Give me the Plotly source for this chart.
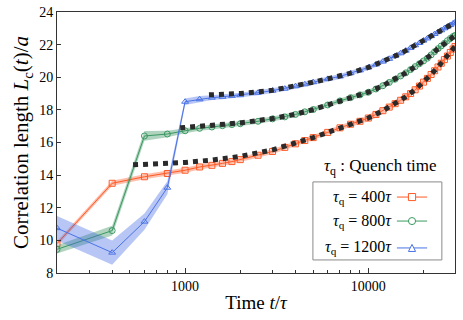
import plotly.graph_objects as go

# time grid (t / tau)
t = [200, 400, 600, 800, 1000, 1200, 1400, 1600, 1800, 2000, 2500, 3000, 3500,
     4000, 4500, 5000, 6000, 7000, 8000, 9000, 10000, 11000, 12000, 13000,
     14000, 15000, 16000, 17000, 18000, 19000, 20000, 21000, 22000, 23000,
     24000, 25000, 26000, 27000, 28000, 29000, 29700]

# correlation length for each quench time
lc_400 = [9.8, 13.5, 13.9, 14.1, 14.3, 14.5, 14.6, 14.72, 14.83, 14.95, 15.22,
          15.45, 15.7, 15.92, 16.12, 16.3, 16.62, 16.9, 17.12, 17.3, 17.5,
          17.72, 17.95, 18.17, 18.38, 18.59, 18.8, 19.0, 19.23, 19.46, 19.7,
          19.93, 20.17, 20.4, 20.63, 20.86, 21.08, 21.3, 21.52, 21.73, 21.88]
lc_800 = [9.45, 10.6, 16.4, 16.52, 16.72, 16.87, 16.95, 17.03, 17.1, 17.15,
          17.3, 17.45, 17.57, 17.72, 17.88, 18.02, 18.3, 18.55, 18.75, 18.92,
          19.08, 19.28, 19.48, 19.68, 19.88, 20.08, 20.27, 20.47, 20.65, 20.83,
          21.0, 21.17, 21.37, 21.57, 21.75, 21.92, 22.08, 22.24, 22.38, 22.5,
          22.56]
lc_1200 = [10.75, 9.25, 11.15, 13.23, 18.5, 18.65, 18.75, 18.8, 18.86, 18.9,
           19.05, 19.18, 19.3, 19.45, 19.57, 19.7, 19.9, 20.05, 20.25, 20.42,
           20.6, 20.78, 20.96, 21.13, 21.3, 21.47, 21.63, 21.8, 21.96, 22.1,
           22.25, 22.38, 22.52, 22.65, 22.77, 22.88, 23.0, 23.1, 23.2, 23.3,
           23.36]

# error (half width of shaded band)
err_400 = [0.15] * 20 + [0.2] * (len(t) - 20)
err_800 = [0.25, 0.3, 0.3, 0.2] + [0.15] * (len(t) - 4)
err_1200 = [0.75, 0.75, 0.5, 0.4, 0.2, 0.2] + [0.15] * (len(t) - 6)

# fitted curves (black dotted)
fit_t_400 = [520, 700, 1000, 1400, 2000, 3000, 4000, 5000, 6000, 7000, 8000,
             10000, 12000, 14000, 16000, 18000, 20000, 22000, 24000, 26000,
             28000, 29700]
fit_400 = [14.63, 14.68, 14.78, 14.92, 15.15, 15.55, 15.95, 16.3, 16.62, 16.9,
           17.12, 17.5, 17.95, 18.38, 18.8, 19.23, 19.7, 20.17, 20.63, 21.08,
           21.52, 21.88]
fit_t_800 = [940, 1000, 1400, 2000, 3000, 4000, 5000, 6000, 7000, 8000, 10000,
             12000, 14000, 16000, 18000, 20000, 22000, 24000, 26000, 28000,
             29700]
fit_800 = [16.9, 16.92, 17.02, 17.2, 17.47, 17.73, 18.02, 18.3, 18.55, 18.75,
           19.08, 19.48, 19.88, 20.27, 20.65, 21.0, 21.37, 21.75, 22.08,
           22.38, 22.56]
fit_t_1200 = [1350, 1400, 2000, 3000, 4000, 5000, 6000, 7000, 8000, 10000,
              12000, 14000, 16000, 18000, 20000, 22000, 24000, 26000, 28000,
              29700]
fit_1200 = [18.92, 18.93, 19.0, 19.2, 19.45, 19.7, 19.9, 20.05, 20.25, 20.6,
            20.96, 21.3, 21.63, 21.96, 22.25, 22.52, 22.77, 23.0, 23.2, 23.36]

labels = ['<i>τ</i><sub>q</sub> = 400<i>τ</i>',
          '<i>τ</i><sub>q</sub> = 800<i>τ</i>',
          '<i>τ</i><sub>q</sub> = 1200<i>τ</i>']

series = [
    (lc_400, err_400, '#ff5a26', 'rgba(255,85,35,0.38)', 'square-open'),
    (lc_800, err_800, '#3a9960', 'rgba(46,139,87,0.38)', 'circle-open'),
    (lc_1200, err_1200, '#4a72e6', 'rgba(65,105,225,0.38)', 'triangle-up-open'),
]
fits = [(fit_t_400, fit_400), (fit_t_800, fit_800), (fit_t_1200, fit_1200)]

FONT = 'Liberation Serif'

fig = go.Figure()
for y, e, col, band, sym in series:
    lo = [a - b for a, b in zip(y, e)]
    hi = [a + b for a, b in zip(y, e)]
    fig.add_trace(go.Scatter(x=t, y=lo, mode='lines', line=dict(width=0),
                             showlegend=False, hoverinfo='skip'))
    fig.add_trace(go.Scatter(x=t, y=hi, mode='lines', line=dict(width=0),
                             fill='tonexty', fillcolor=band,
                             showlegend=False, hoverinfo='skip'))
    fig.add_trace(go.Scatter(x=t, y=y, mode='lines+markers',
                             line=dict(color=col, width=1),
                             marker=dict(symbol=sym, size=6, color=col,
                                         line=dict(width=1)),
                             showlegend=False))

for ft, fv in fits:
    fig.add_trace(go.Scatter(x=ft, y=fv, mode='lines',
                             line=dict(color='#2a2a2a', width=5, dash='dot'),
                             showlegend=False))

# hand-made legend (text left, sample right, title above the box)
fig.add_shape(type='rect', xref='paper', yref='paper', x0=0.643, x1=0.967,
              y0=0.05, y1=0.349, line=dict(color='#8a8a8a', width=1),
              fillcolor='white', layer='above')
fig.add_annotation(xref='paper', yref='paper', x=0.812, y=0.406,
                   xanchor='center', yanchor='middle',
                   text='<i>τ</i><sub>q</sub> : Quench time', showarrow=False,
                   font=dict(family=FONT, size=17, color='black'))
rows = [0.291, 0.199, 0.096]
dx, dy = 0.009, 0.0135
for (y, e, col, band, sym), lab, ry in zip(series, labels, rows):
    fig.add_annotation(xref='paper', yref='paper', x=0.847, y=ry, text=lab,
                       xanchor='right', yanchor='middle', showarrow=False,
                       font=dict(family=FONT, size=16, color='black'))
    fig.add_shape(type='line', xref='paper', yref='paper', x0=0.854, x1=0.930,
                  y0=ry, y1=ry, line=dict(color=col, width=1), layer='above')
    cx = 0.892
    if sym.startswith('square'):
        fig.add_shape(type='rect', xref='paper', yref='paper',
                      x0=cx - dx, x1=cx + dx, y0=ry - dy, y1=ry + dy,
                      line=dict(color=col, width=1), fillcolor='white',
                      layer='above')
    elif sym.startswith('circle'):
        fig.add_shape(type='circle', xref='paper', yref='paper',
                      x0=cx - dx, x1=cx + dx, y0=ry - dy, y1=ry + dy,
                      line=dict(color=col, width=1), fillcolor='white',
                      layer='above')
    else:
        fig.add_shape(type='path', xref='paper', yref='paper',
                      path=f'M {cx - dx},{ry - dy} L {cx + dx},{ry - dy} '
                           f'L {cx},{ry + dy} Z',
                      line=dict(color=col, width=1), fillcolor='white',
                      layer='above')

axis_common = dict(showline=True, linecolor='#333333', linewidth=1,
                   mirror=True, showgrid=False, zeroline=False,
                   automargin=False, ticks='inside', tickcolor='#333333',
                   tickfont=dict(family=FONT, size=14, color='black'))

fig.update_xaxes(type='log', range=[2.301, 4.4728],
                 tickvals=[1000, 10000], ticktext=['1000', '10000'], ticklen=5,
                 minor=dict(tickvals=[300, 400, 500, 600, 700, 800, 900, 2000,
                                      3000, 4000, 5000, 6000, 7000, 8000, 9000,
                                      20000],
                            ticklen=3, ticks='inside', tickcolor='#333333'),
                 title=dict(text='Time <i>t</i>/<i>τ</i>', standoff=2,
                            font=dict(family=FONT, size=19, color='black')),
                 **axis_common)
fig.update_yaxes(range=[8, 24], dtick=2, ticklen=4,
                 title=dict(text='Correlation length <i>L</i><sub>c</sub>(<i>t</i>)/<i>a</i>',
                            standoff=4,
                            font=dict(family=FONT, size=21, color='black')),
                 **axis_common)

fig.update_layout(width=463, height=320, plot_bgcolor='white',
                  paper_bgcolor='white', showlegend=False,
                  margin=dict(l=57, r=8, t=12, b=47))

fig.write_html('out.html', config={'displayModeBar': False},
               post_script="document.body.style.margin='0';")
